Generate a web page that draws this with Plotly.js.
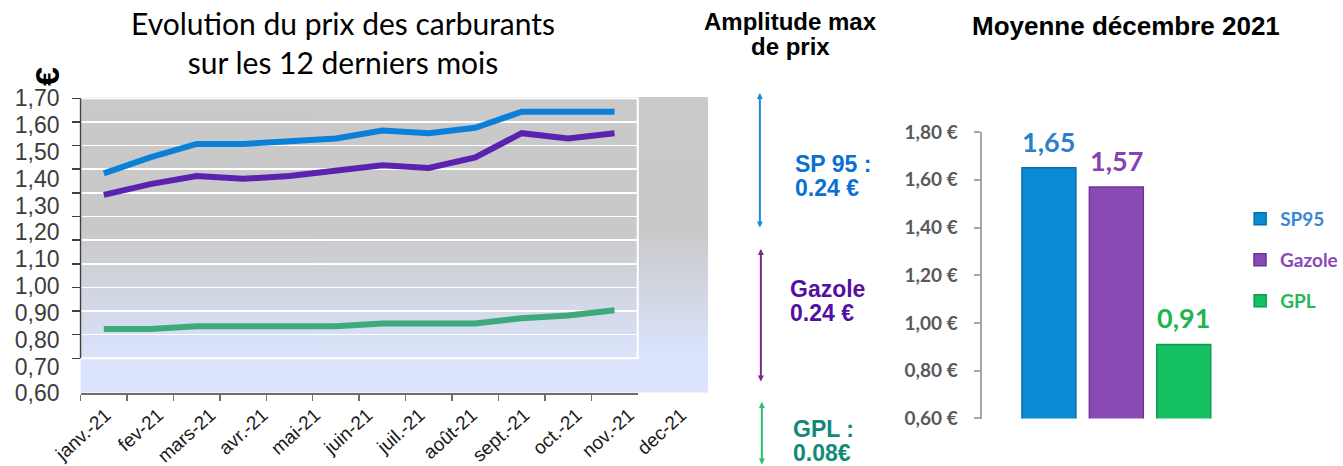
<!DOCTYPE html>
<html>
<head>
<meta charset="utf-8">
<script src="https://cdn.plot.ly/plotly-3.0.1.min.js"></script>
<style>
  html, body { margin: 0; padding: 0; background: #ffffff; }
  #chart { width: 1343px; height: 466px; }
</style>
</head>
<body>
<div id="chart"></div>
<script>
// ---------- data ----------
const months = ['janv.-21','fev-21','mars-21','avr.-21','mai-21','juin-21','juil.-21','août-21','sept.-21','oct.-21','nov.-21','dec-21'];
const sp95   = [1.42, 1.48, 1.53, 1.53, 1.54, 1.55, 1.58, 1.57, 1.59, 1.65, 1.65, 1.65];
const gazole = [1.34, 1.38, 1.41, 1.40, 1.41, 1.43, 1.45, 1.44, 1.48, 1.57, 1.55, 1.57];
const gpl    = [0.84, 0.84, 0.85, 0.85, 0.85, 0.85, 0.86, 0.86, 0.86, 0.88, 0.89, 0.91];

const barNames  = ['SP95', 'Gazole', 'GPL'];
const barValues = [1.65, 1.57, 0.91];

const amplitudeLabels = ['SP 95 :', 'Gazole', 'GPL :'];
const amplitudeValues = ['0.24 €', '0.24 €', '0.08€'];

const leftTitle  = 'Evolution du prix des carburants<br>sur les 12 derniers mois';
const midTitle   = ['Amplitude max', 'de prix'];
const rightTitle = 'Moyenne décembre 2021';

// ---------- helpers ----------
const W = 1343, H = 466;
const px = v => v / W;
const py = v => 1 - v / H;

// gradient panel behind the line chart
function gradientURL() {
  const c = document.createElement('canvas');
  c.width = 4; c.height = 300;
  const ctx = c.getContext('2d');
  const g = ctx.createLinearGradient(0, 0, 0, 300);
  g.addColorStop(0.0, '#cacaca');
  g.addColorStop(0.45, '#c9c9c9');
  g.addColorStop(0.87, '#dae3fb');
  g.addColorStop(1.0, '#dce5fd');
  ctx.fillStyle = g;
  ctx.fillRect(0, 0, 4, 300);
  return c.toDataURL('image/png');
}

const lineColors = {sp95: '#0a80d8', gazole: '#5b22b2', gpl: '#3ea97a'};
const barColors  = ['#0a8ad4', '#8a4ab6', '#15c063'];
const barLines   = ['#086fae', '#6c3592', '#0e9a4c'];
const barTextColors = ['#2b7fcb', '#8741b3', '#1fb552'];
const legendTextColors = ['#3a87d6', '#8a4ab5', '#22b85a'];
const ampColors = ['#0b70d5', '#5410a0', '#0f8a78'];
const arrowColors = ['#1f8ad0', '#7b2a85', '#2ec06c'];

const nulls = months.map(() => null);

const traces = [
  // helper traces so the label axis and the grid axis are built
  {x: months, y: nulls, xaxis: 'x2', yaxis: 'y', mode: 'lines', showlegend: false, hoverinfo: 'skip'},
  {x: months, y: nulls, xaxis: 'x', yaxis: 'y2', mode: 'lines', showlegend: false, hoverinfo: 'skip'},
  {x: months, y: gpl, xaxis: 'x', yaxis: 'y', mode: 'lines', name: 'GPL', showlegend: false,
   line: {color: lineColors.gpl, width: 6}},
  {x: months, y: gazole, xaxis: 'x', yaxis: 'y', mode: 'lines', name: 'Gazole', showlegend: false,
   line: {color: lineColors.gazole, width: 6}},
  {x: months, y: sp95, xaxis: 'x', yaxis: 'y', mode: 'lines', name: 'SP95', showlegend: false,
   line: {color: lineColors.sp95, width: 6}}
];

const legendIds = ['legend', 'legend2', 'legend3'];
const legendY = [219, 260, 301];
barNames.forEach((n, i) => {
  traces.push({
    type: 'bar', x: [n], y: [barValues[i]], name: n, xaxis: 'x3', yaxis: 'y3',
    width: 0.8,
    marker: {color: barColors[i], line: {color: barLines[i], width: 1.5}},
    legend: legendIds[i], hoverinfo: 'x+y'
  });
});

const annotations = [];
// left title
annotations.push({text: leftTitle, xref: 'paper', yref: 'paper', x: px(344), y: py(43),
  xanchor: 'center', yanchor: 'middle', showarrow: false,
  font: {family: 'Lato', size: 30, color: '#000'}});
// euro sign above the left axis
annotations.push({text: '€', xref: 'paper', yref: 'paper', x: px(47), y: py(76),
  xanchor: 'center', yanchor: 'middle', textangle: -90, showarrow: false,
  font: {family: 'Liberation Sans, Arial', size: 34, color: '#000', weight: 700}});
// middle titles
const midBase = [21, 46];
midTitle.forEach((t, i) => annotations.push({text: t, xref: 'paper', yref: 'paper',
  x: px(792), y: py(midBase[i]), xanchor: 'center', yanchor: 'middle', showarrow: false,
  font: {family: 'Liberation Sans, Arial', size: 24, color: '#000', weight: 700}}));
annotations.push({text: rightTitle, xref: 'paper', yref: 'paper', x: px(1128), y: py(26),
  xanchor: 'center', yanchor: 'middle', showarrow: false,
  font: {family: 'Liberation Sans, Arial', size: 26, color: '#000', weight: 700}});
// amplitude texts
const ampX = [794, 789, 792];
const ampY1 = [164, 289, 429];
amplitudeLabels.forEach((t, i) => {
  annotations.push({text: t, xref: 'paper', yref: 'paper', x: px(ampX[i]), y: py(ampY1[i]),
    xanchor: 'left', yanchor: 'middle', showarrow: false,
    font: {family: 'Liberation Sans, Arial', size: 23, color: ampColors[i], weight: 700}});
  annotations.push({text: amplitudeValues[i], xref: 'paper', yref: 'paper', x: px(ampX[i]), y: py(ampY1[i] + 24),
    xanchor: 'left', yanchor: 'middle', showarrow: false,
    font: {family: 'Liberation Sans, Arial', size: 23, color: ampColors[i], weight: 700}});
});
// vertical double arrows
const arrowX = [761, 762, 763];
const arrowTop = [93, 249, 402];
const arrowBot = [229, 383, 475];
arrowX.forEach((x, i) => annotations.push({text: '', xref: 'paper', yref: 'paper',
  x: px(x), y: py(arrowTop[i]), ax: 0, ay: arrowBot[i] - arrowTop[i],
  showarrow: true, arrowside: 'end+start', arrowhead: 2, arrowsize: 0.6, arrowwidth: 2,
  arrowcolor: arrowColors[i]}));
// bar value labels
barNames.forEach((n, i) => annotations.push({text: barValues[i].toFixed(2).replace('.', ','),
  xref: 'x3', yref: 'y3', x: n, y: barValues[i], xanchor: 'center', yanchor: 'bottom',
  yshift: 8, showarrow: false,
  font: {family: 'Lato', size: 27, color: barTextColors[i], weight: 700}}));

const legendCommon = {xanchor: 'left', yanchor: 'middle', bgcolor: 'rgba(0,0,0,0)',
  borderwidth: 0, itemwidth: 30};
const layout = {
  width: W, height: H,
  margin: {l: 0, r: 0, t: 0, b: 0, pad: 0},
  paper_bgcolor: '#ffffff', plot_bgcolor: 'rgba(0,0,0,0)',
  separators: ', ',
  showlegend: true,
  barmode: 'overlay',
  xaxis: {domain: [px(80.7), px(638.7)], type: 'category', anchor: 'y', range: [-0.5, 11.5],
    showline: true, linecolor: '#6e6e6e', linewidth: 1.5, ticks: 'outside', tickson: 'boundaries',
    ticklen: 6, tickcolor: '#6e6e6e', tickwidth: 1.5, showticklabels: false,
    showgrid: false, zeroline: false, fixedrange: true},
  xaxis2: {domain: [px(79.8), px(708.6)], type: 'category', anchor: 'y', range: [-0.5, 11.5],
    showline: false, ticks: '', showgrid: false, zeroline: false, tickangle: -42,
    ticklabelstandoff: 6,
    tickfont: {family: 'Liberation Sans, Arial', size: 19, color: '#1a1a1a'}, fixedrange: true},
  yaxis: {domain: [py(393.3), py(98.3)], anchor: 'x', range: [0.5999, 1.7001],
    tick0: 0.6, dtick: 0.1, tickformat: '.2f', showgrid: false, zeroline: false,
    showline: false, ticks: '', ticklabelstandoff: 20,
    tickfont: {family: 'Liberation Sans, Arial', size: 23, color: '#3c3c3c'}, fixedrange: true},
  yaxis2: {overlaying: 'y', anchor: 'x', side: 'left', range: [0.452, 1.7],
    tickvals: [0.6, 0.7, 0.8, 0.9, 1.0, 1.1, 1.2, 1.3, 1.4, 1.5, 1.6, 1.7],
    showticklabels: false, ticks: 'outside', ticklen: 8, tickcolor: '#404040', tickwidth: 1.5,
    showline: false, showgrid: true, gridcolor: '#ffffff', gridwidth: 1.5, zeroline: false,
    fixedrange: true},
  xaxis3: {domain: [px(983), px(1225)], anchor: 'y3', type: 'category', range: [-1.0, 2.585],
    showticklabels: false, showline: false, ticks: '', showgrid: false, zeroline: false, fixedrange: true},
  yaxis3: {domain: [py(418.5), py(132)], anchor: 'x3', range: [0.5999, 1.8001],
    tick0: 0.6, dtick: 0.2, tickformat: '.2f', ticksuffix: ' €',
    showline: true, linecolor: '#a6a6a6', linewidth: 2, ticks: 'outside', ticklen: 6,
    tickcolor: '#a6a6a6', tickwidth: 2, showgrid: false, zeroline: false, ticklabelstandoff: 12,
    tickfont: {family: 'Lato', size: 19, color: '#595959', weight: 700}, fixedrange: true},
  legend:  Object.assign({x: px(1242), y: py(legendY[0]), font: {family: 'Lato', size: 19, color: legendTextColors[0], weight: 700}}, legendCommon),
  legend2: Object.assign({x: px(1242), y: py(legendY[1]), font: {family: 'Lato', size: 19, color: legendTextColors[1], weight: 700}}, legendCommon),
  legend3: Object.assign({x: px(1242), y: py(legendY[2]), font: {family: 'Lato', size: 19, color: legendTextColors[2], weight: 700}}, legendCommon),
  images: [{source: gradientURL(), xref: 'paper', yref: 'paper', x: px(80.7), y: py(97),
    sizex: px(709) - px(80.7), sizey: (392.5 - 97) / H, xanchor: 'left', yanchor: 'top',
    sizing: 'stretch', layer: 'below'}],
  shapes: [
    // white frame of the inner plot area
    {type: 'rect', xref: 'paper', yref: 'paper', x0: px(80.7), x1: px(638.7), y0: py(358.3), y1: py(98.3),
     line: {color: '#ffffff', width: 2}, layer: 'below'},
    // left axis spine (only over the gridded area)
    {type: 'line', xref: 'paper', yref: 'paper', x0: px(80.7), x1: px(80.7), y0: py(358.3), y1: py(98.3),
     line: {color: '#404040', width: 1.5}, layer: 'above'}
  ],
  annotations: annotations
};

Plotly.newPlot('chart', traces, layout, {displayModeBar: false, staticPlot: true});
</script>
</body>
</html>
